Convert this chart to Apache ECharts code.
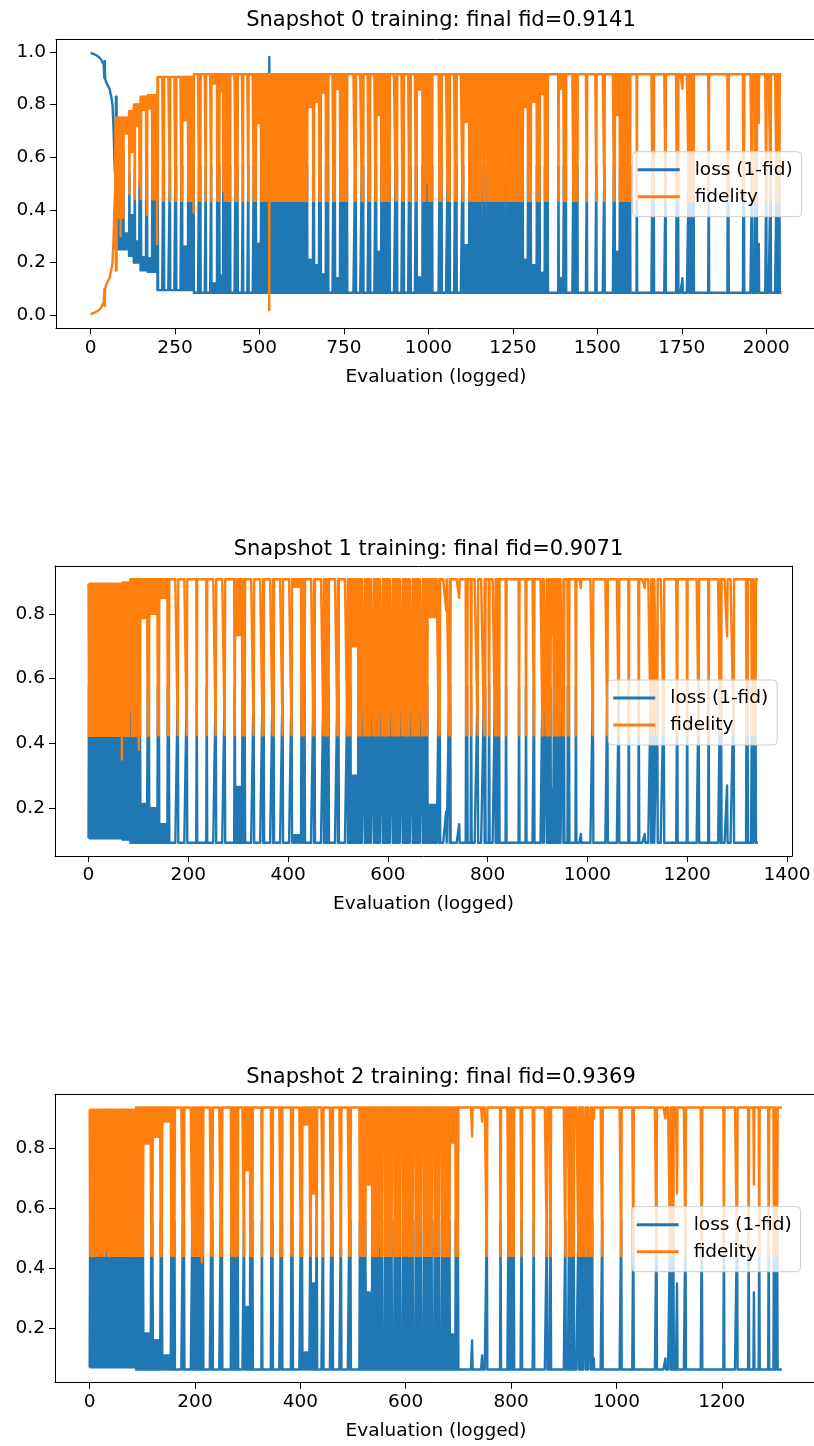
<!DOCTYPE html>
<html>
<head>
<meta charset="utf-8">
<script src="https://cdn.jsdelivr.net/npm/echarts@6/dist/echarts.min.js"></script>
<style>html,body{margin:0;background:#fff;overflow:hidden}#main{width:814px;height:1446px}</style>
</head>
<body>
<div id="main"></div>
<script>
var myChart = echarts.init(document.getElementById('main'));

// titles / axis ticks
var titles = ['Snapshot 0 training: final fid=0.9141', 'Snapshot 1 training: final fid=0.9071', 'Snapshot 2 training: final fid=0.9369'];
var xTicks0 = [0, 250, 500, 750, 1000, 1250, 1500, 1750, 2000];
var yTicks0 = [0, 0.2, 0.4, 0.6, 0.8, 1.0];
var xTicks1 = [0, 200, 400, 600, 800, 1000, 1200, 1400];
var xTicks2 = [0, 200, 400, 600, 800, 1000, 1200];
var yTicks12 = [0.2, 0.4, 0.6, 0.8];
// visible x window of panels 0 and 2 is cut by the picture's right edge
var xRange0 = [-102.25, 2188.65], yRange0 = [-0.0499, 1.0477];
var xRange1 = [-67.15, 1410.15], yRange1 = [0.052, 0.948];
var xRange2 = [-65.75, 1407.3], yRange2 = [0.019, 0.981];

// snapshot 0 : fidelity per logged evaluation
// dense stretches swing between the high level and the low level every evaluation;
// gaps = [from, to, dip] (dip null = holds at high level), spikes = same in the quiet part
var count0 = 2046, final0 = 0.9141, LOW0 = 0.434, denseEnd0 = 1668;
var warmup0 = [0.004,0.004,0.005,0.005,0.006,0.006,0.007,0.007,0.008,0.008,
  0.009,0.010,0.010,0.011,0.012,0.012,0.013,0.014,0.014,0.015,
  0.016,0.016,0.017,0.018,0.019,0.015,0.017,0.020,0.022,0.024,
  0.026,0.028,0.030,0.033,0.036,0.040,0.038,0.043,0.045,0.048,
  0.052,0.100,0.035,0.095,0.105,0.110,0.115,0.118,0.120,0.122,
  0.125,0.127,0.130,0.133,0.135,0.138,0.140,0.143,0.145,0.160,
  0.165,0.168,0.170,0.172,0.175,0.200,0.230,0.260,0.290,0.330,
  0.380,0.420,0.450,0.470,0.750,0.170,0.750,0.170,0.740,0.460];
var highs0 = [[0, 0.75], [113, 0.775], [128, 0.80], [148, 0.83], [167, 0.835], [197, 0.905], [305, 0.915]];
var lows0 = [[0, 0.37], [108, 0.46], [128, 0.44], [200, 0.434]];
var gaps0 = [[99,113,0.69],[117,129,0.62],[133,147,0.72],[150,164,0.78],[168,182,0.785],
  [200,214,null],[219,233,null],[236,250,null],[254,268,null],[273,287,0.74],
  [305,319,null],[326,340,null],[342,356,null],[359,373,0.88],[382,396,0.85],
  [414,428,null],[436,450,null],[452,465,null],[468,482,null],[490,504,0.73],
  [643,657,0.79],[662,676,0.81],[682,696,0.845],[704,718,null],[724,738,0.86],
  [761,781,null],[787,801,null],[808,822,null],[828,842,null],[846,860,0.76],
  [887,901,null],[908,922,null],[928,942,null],[948,962,null],[967,981,0.857],
  [984,988,null],[993,999,0.5],[1012,1032,null],[1041,1055,null],[1064,1078,null],
  [1085,1099,null],[1105,1119,0.734],[1158,1163,null],[1170,1175,null],[1227,1232,null],
  [1280,1294,0.79],[1305,1319,0.81],[1330,1344,0.84],[1355,1383,null],[1386,1399,0.86],
  [1409,1428,null],[1442,1467,null],[1470,1496,null],[1499,1520,null],[1522,1548,null],
  [1552,1566,0.76],[1598,1616,null],[1618,1661,null],
  [145,147,0.49],[189,191,0.455],[393,395,0.47]];
var spikes0 = [[1702,1702,LOW0],[1735,1739,LOW0],[1752,1752,0.86],[1771,1785,LOW0],[1830,1830,LOW0],
  [1886,1888,LOW0],[1932,1934,LOW0],[1958,1958,LOW0],[1968,1972,LOW0],[1978,1978,0.73],
  [2000,2000,LOW0],[2013,2013,LOW0],[2031,2031,LOW0],[2039,2039,LOW0]];
var extras0 = [[89, 0.30], [167, 0.38], [197, 0.27], [305, 0.39], [529, 0.019]];

// snapshot 1
var count1 = 1344, final1 = 0.9071, LOW1 = 0.425, denseEnd1 = 698;
var highs1 = [[0, 0.893], [67, 0.897], [83, 0.907]];
var lows1 = [[0, 0.423], [120, 0.425]];
var gaps1 = [[104,117,0.787],[123,137,0.80],[143,157,0.85],[162,178,null],[180,195,null],
  [199,215,null],[219,235,null],[239,254,null],[256,271,null],[275,291,null],
  [294,307,0.735],[315,330,null],[333,348,null],[352,368,null],[372,388,null],
  [390,405,null],[409,425,0.884],[434,450,null],[454,470,null],[482,498,null],
  [502,518,null],[527,539,0.70],[548,551,null],[566,569,null],[585,588,null],
  [605,608,null],[625,628,null],[645,648,null],[664,667,null],[681,697,0.79],
  [83,85,0.5]];
var spikes1 = [[702,704,LOW1],[717,717,0.81],[723,725,LOW1],[743,743,0.85],[757,759,LOW1],
  [767,767,LOW1],[780,780,LOW1],[793,795,LOW1],[803,803,LOW1],[815,823,LOW1],
  [837,837,LOW1],[863,863,LOW1],[877,877,LOW1],[893,893,LOW1],[910,912,LOW1],
  [918,927,LOW1],[928,932,0.74],[933,945,LOW1],[951,953,LOW1],[961,963,LOW1],
  [977,977,LOW1],[987,987,0.88],[1011,1011,LOW1],[1040,1040,LOW1],[1063,1063,LOW1],
  [1083,1083,LOW1],[1103,1103,LOW1],[1115,1115,0.88],[1127,1129,LOW1],[1133,1133,LOW1],
  [1140,1140,LOW1],[1153,1153,LOW1],[1180,1180,LOW1],[1200,1200,LOW1],[1223,1223,LOW1],
  [1243,1243,LOW1],[1266,1268,LOW1],[1280,1280,0.73],[1293,1293,LOW1],[1319,1321,LOW1],
  [1330,1332,LOW1],[1337,1337,LOW1]];
var extras1 = [[67, 0.35], [101, 0.38]];

// snapshot 2
var count2 = 1316, final2 = 0.9369, LOW2 = 0.442, denseEnd2 = 696;
var highs2 = [[0, 0.930], [87, 0.937]];
var lows2 = [[0, 0.442]];
var gaps2 = [[102,116,0.817],[120,134,0.839],[139,153,0.89],[162,176,null],[180,194,null],
  [216,230,null],[234,248,null],[253,267,null],[282,292,null],[295,304,0.728],
  [311,325,null],[329,343,null],[348,362,null],[367,381,null],[386,400,null],
  [404,417,0.88],[420,430,0.65],[433,442,null],[444,457,null],[462,476,null],
  [478,492,null],[497,511,null],[524,536,0.68],[556,559,null],[575,578,null],
  [590,593,null],[615,618,null],[630,633,null],[650,653,null],[665,668,null],
  [685,693,0.82],[31,33,0.46],[82,84,0.5],[549,551,0.47],[602,604,0.455]];
var spikes2 = [[697,699,LOW2],[726,726,0.84],[745,745,0.89],[754,754,LOW2],[780,780,LOW2],[795,805,LOW2],
  [820,820,LOW2],[843,843,LOW2],[868,868,LOW2],[875,875,LOW2],[903,903,LOW2],
  [910,914,LOW2],[915,915,0.73],[917,919,LOW2],[928,936,LOW2],[941,946,LOW2],
  [950,954,LOW2],[957,957,0.9],[973,973,LOW2],[1009,1009,LOW2],[1032,1032,LOW2],
  [1076,1076,LOW2],[1093,1093,0.9],[1102,1109,LOW2],[1115,1115,0.65],[1131,1131,LOW2],
  [1162,1162,LOW2],[1204,1204,LOW2],[1229,1229,LOW2],[1251,1251,LOW2],[1261,1261,0.68],
  [1271,1271,LOW2],[1289,1289,LOW2],[1299,1301,LOW2],[1305,1305,LOW2]];
var extras2 = [[213, 0.42]];

function stepValue(steps, i) {
  var v = steps[0][1];
  for (var k = 0; k < steps.length; k++) if (i >= steps[k][0]) v = steps[k][1];
  return v;
}

// expand the run description into one value per evaluation
function buildFidelity(s) {
  var fid = [];
  for (var i = 0; i < s.count; i++) {
    if (i < s.warmup.length) fid.push(s.warmup[i]);
    else if (i < s.denseEnd && i % 2 === 1) fid.push(stepValue(s.lows, i));
    else fid.push(stepValue(s.highs, i));
  }
  s.gaps.concat(s.spikes).forEach(function (g) {
    for (var i = g[0]; i <= g[1]; i++) {
      fid[i] = (g[2] !== null && (i - g[0]) % 2 === 0) ? g[2] : stepValue(s.highs, i);
    }
  });
  s.extras.forEach(function (p) { fid[p[0]] = p[1]; });
  fid[s.count - 1] = s.final;
  return fid;
}

var snaps = [
  {count: count0, final: final0, warmup: warmup0, highs: highs0, lows: lows0, denseEnd: denseEnd0, gaps: gaps0, spikes: spikes0, extras: extras0},
  {count: count1, final: final1, warmup: [], highs: highs1, lows: lows1, denseEnd: denseEnd1, gaps: gaps1, spikes: spikes1, extras: extras1},
  {count: count2, final: final2, warmup: [], highs: highs2, lows: lows2, denseEnd: denseEnd2, gaps: gaps2, spikes: spikes2, extras: extras2}
];
var xTicks = [xTicks0, xTicks1, xTicks2];
var yTicks = [yTicks0, yTicks12, yTicks12];
var xRanges = [xRange0, xRange1, xRange2];
var yRanges = [yRange0, yRange1, yRange2];

// layout (pixels); panels 0 and 2 run past the right edge of the picture
var grids = [
  {left: 56, top: 39.3, width: 774, height: 289},
  {left: 55, top: 566, width: 737, height: 290},
  {left: 55, top: 1094.3, width: 776, height: 288.4}
];
var titleCenter = [436, 423.5, 436];
var titleTop = [5, 534, 1062];
var namePad = [[0, 14, 0, 0], [0, 0, 0, 0], [0, 14, 0, 0]];
var legendPos = [[632.7, 151.7], [608.3, 680], [631.7, 1206.7]];

var FONT = 'DejaVu Sans';
var option = {
  animation: false,
  backgroundColor: '#ffffff',
  textStyle: {fontFamily: FONT, color: '#000'},
  title: [], legend: [], grid: [], xAxis: [], yAxis: [], series: []
};
var frameLine = {show: true, onZero: false, lineStyle: {color: '#000', width: 1}};
var topAxes = [], rightAxes = [];

snaps.forEach(function (s, k) {
  var fid = buildFidelity(s);
  var g = grids[k];
  option.grid.push({left: g.left, top: g.top, width: g.width, height: g.height,
    outerBoundsMode: 'none', containLabel: false, show: false});
  option.title.push({text: titles[k], left: titleCenter[k], top: titleTop[k], textAlign: 'center',
    textStyle: {fontFamily: FONT, fontSize: 21, fontWeight: 'normal', color: '#000'}});
  option.legend.push({
    data: ['loss (1-fid)', 'fidelity'], orient: 'vertical',
    left: legendPos[k][0], top: legendPos[k][1],
    icon: 'rect', itemWidth: 42, itemHeight: 3, itemGap: 7,
    selectedMode: false,
    padding: [8, 9, 10, 5],
    backgroundColor: 'rgba(255,255,255,0.8)', borderColor: '#cccccc', borderWidth: 1, borderRadius: 4,
    textStyle: {fontFamily: FONT, fontSize: 18.5, color: '#000', lineHeight: 20, padding: [0, 0, 0, 10]}
  });
  option.xAxis.push({
    type: 'value', gridIndex: k, min: xRanges[k][0], max: xRanges[k][1],
    name: 'Evaluation (logged)', nameLocation: 'middle', nameGap: 39,
    nameTextStyle: {fontFamily: FONT, fontSize: 18.5, color: '#000', padding: namePad[k]},
    splitLine: {show: false},
    axisLine: frameLine,
    axisTick: {show: true, length: 6, customValues: xTicks[k], lineStyle: {color: '#000', width: 1}},
    axisLabel: {customValues: xTicks[k], margin: 10, fontFamily: FONT, fontSize: 18.5, color: '#000',
      formatter: function (v) { return String(v); }}
  });
  option.yAxis.push({
    type: 'value', gridIndex: k, min: yRanges[k][0], max: yRanges[k][1],
    splitLine: {show: false},
    axisLine: frameLine,
    axisTick: {show: true, length: 6, customValues: yTicks[k], lineStyle: {color: '#000', width: 1}},
    axisLabel: {customValues: yTicks[k], margin: 10, fontFamily: FONT, fontSize: 18.5, color: '#000',
      formatter: function (v) { return v.toFixed(1); }}
  });
  // plain top (and right) edges of the frame
  topAxes.push({type: 'value', gridIndex: k, position: 'top', min: xRanges[k][0], max: xRanges[k][1],
    axisLine: frameLine, axisTick: {show: false}, axisLabel: {show: false}, splitLine: {show: false}});
  rightAxes.push({type: 'value', gridIndex: k, position: 'right', min: yRanges[k][0], max: yRanges[k][1],
    axisLine: frameLine, axisTick: {show: false}, axisLabel: {show: false}, splitLine: {show: false}});
  option.series.push({
    name: 'loss (1-fid)', type: 'line', xAxisIndex: k, yAxisIndex: k,
    data: fid.map(function (v, i) { return [i, +(1 - v).toFixed(4)]; }),
    showSymbol: false, symbol: 'none', silent: true, emphasis: {disabled: true},
    color: '#1f77b4', lineStyle: {color: '#1f77b4', width: 2.4, join: 'round'}
  });
  option.series.push({
    name: 'fidelity', type: 'line', xAxisIndex: k, yAxisIndex: k,
    data: fid.map(function (v, i) { return [i, v]; }),
    showSymbol: false, symbol: 'none', silent: true, emphasis: {disabled: true},
    color: '#ff7f0e', lineStyle: {color: '#ff7f0e', width: 2.4, join: 'round'}
  });
});
option.xAxis = option.xAxis.concat(topAxes);
option.yAxis = option.yAxis.concat([rightAxes[1]]);

myChart.setOption(option);
</script>
</body>
</html>
